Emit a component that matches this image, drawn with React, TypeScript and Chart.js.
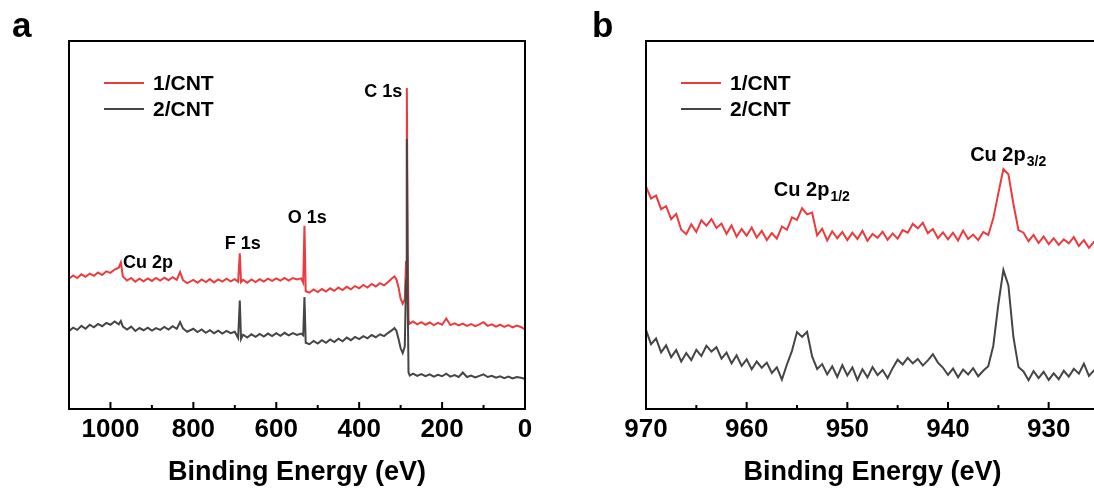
import React, { useEffect, useRef } from 'react';
import { Chart, registerables } from 'chart.js';

Chart.register(...registerables);

// ---------- Panel a: survey spectrum ----------
const surveyEnergy = [
  1100, 1090, 1080, 1070, 1060, 1050, 1040, 1030, 1020, 1010,
  1000, 990, 980, 975, 970, 960, 950, 940, 930, 920,
  910, 900, 890, 880, 870, 860, 850, 840, 832, 825,
  815, 800, 790, 780, 770, 760, 750, 740, 730, 720,
  710, 700, 692, 688, 685, 680, 670, 660, 650, 640,
  630, 620, 610, 600, 590, 580, 570, 560, 550, 540,
  535, 532, 529, 520, 510, 500, 490, 480, 470, 460,
  450, 440, 430, 420, 410, 400, 390, 380, 370, 360,
  350, 340, 330, 320, 315, 310, 305, 300, 295, 290,
  287, 285, 283, 281, 278, 270, 260, 250, 240, 230,
  220, 210, 200, 190, 180, 170, 160, 150, 140, 130,
  120, 110, 100, 90, 80, 70, 60, 50, 40, 30,
  20, 10, 0,
];
const surveyRed = [
  35.4, 36.3, 35.6, 36.6, 35.9, 36.8, 36.2, 37.1, 36.4, 37.4,
  37.0, 37.9, 38.4, 39.8, 36.0, 34.9, 35.6, 34.6, 35.4, 34.7,
  35.5, 34.8, 35.6, 34.9, 35.7, 35.0, 35.8, 35.1, 37.2, 35.0,
  34.2, 35.1, 34.3, 35.2, 34.5, 35.3, 34.4, 35.2, 34.6, 35.4,
  34.7, 35.3, 34.6, 42.3, 34.5, 35.1, 34.3, 35.2, 34.5, 35.3,
  34.6, 35.4, 34.8, 35.5, 34.9, 35.6, 34.9, 35.6, 35.2, 35.5,
  34.3, 49.8, 32.0, 31.6, 32.5, 31.8, 32.6, 31.9, 32.8, 32.1,
  33.0, 32.3, 33.2, 32.5, 33.4, 32.8, 33.7, 33.0, 34.0, 33.3,
  34.2, 33.6, 34.5, 35.6, 36.0, 35.2, 33.0, 30.0, 28.6, 29.8,
  40.0, 87.2, 45.0, 24.0, 23.2, 23.8, 23.0, 23.6, 22.9, 23.5,
  22.8, 23.4, 22.9, 24.6, 22.8, 23.3, 22.7, 23.2, 22.6, 23.1,
  22.5, 23.0, 23.6, 22.6, 23.0, 22.4, 22.9, 22.3, 22.8, 22.2,
  22.7, 22.3, 21.6,
];
const surveyGray = [
  21.2, 22.1, 21.5, 22.6, 21.8, 22.9, 22.2, 23.1, 22.5, 23.4,
  22.9, 23.8, 23.0, 23.9, 22.4, 21.6, 22.4, 21.2, 22.0, 21.4,
  22.1, 21.3, 22.0, 21.5, 22.3, 21.6, 22.5, 21.8, 23.6, 21.9,
  21.0, 21.8, 20.9, 21.6, 20.7, 21.4, 20.6, 21.3, 20.5, 21.2,
  20.6, 21.0, 19.3, 29.5, 19.0, 20.2, 19.4, 20.3, 19.6, 20.4,
  19.7, 20.5, 19.8, 20.6, 19.9, 20.7, 20.0, 20.6, 20.1, 20.5,
  20.0, 30.4, 18.0, 17.6, 18.5, 17.8, 18.7, 18.0, 18.9, 18.2,
  19.1, 18.4, 19.4, 18.7, 19.6, 19.0, 19.8, 19.2, 20.1, 19.5,
  20.3, 19.8, 20.7, 21.5, 22.0, 21.2, 19.0, 16.5, 15.2, 17.0,
  35.0, 73.4, 30.0, 10.0, 9.1, 9.6, 9.0, 9.5, 8.9, 9.4,
  8.8, 9.3, 8.9, 9.6, 8.8, 9.2, 8.7, 9.9, 8.7, 9.1,
  8.6, 9.0, 9.4, 8.7, 9.0, 8.5, 8.9, 8.4, 8.8, 8.3,
  8.7, 8.5, 8.2,
];
const surveyTicks = [1000, 800, 600, 400, 200, 0];

// ---------- Panel b: Cu 2p region ----------
const cuEnergy = [
  970, 969.5, 969, 968.5, 968, 967.5, 967, 966.5, 966, 965.5,
  965, 964.5, 964, 963.5, 963, 962.5, 962, 961.5, 961, 960.5,
  960, 959.5, 959, 958.5, 958, 957.5, 957, 956.5, 956, 955.5,
  955, 954.5, 954, 953.5, 953, 952.5, 952, 951.5, 951, 950.5,
  950, 949.5, 949, 948.5, 948, 947.5, 947, 946.5, 946, 945.5,
  945, 944.5, 944, 943.5, 943, 942.5, 942, 941.5, 941, 940.5,
  940, 939.5, 939, 938.5, 938, 937.5, 937, 936.5, 936, 935.5,
  935, 934.5, 934, 933.5, 933, 932.5, 932, 931.5, 931, 930.5,
  930, 929.5, 929, 928.5, 928, 927.5, 927, 926.5, 926, 925.5,
  925,
];
const cuRed = [
  60.4, 57.2, 58.0, 54.3, 55.1, 51.6, 53.0, 48.7, 47.5, 50.2,
  48.1, 51.3, 49.8, 51.6, 49.2, 50.4, 47.6, 49.9, 46.8, 48.9,
  47.1, 49.3, 46.6, 48.4, 45.9, 47.8, 46.3, 49.6, 48.7, 52.1,
  51.4, 54.6, 52.9, 53.4, 47.2, 49.0, 45.8, 48.3, 46.4, 48.1,
  45.9, 47.9, 46.2, 48.4, 45.7, 47.6, 46.5, 48.2, 46.0, 47.7,
  46.3, 48.6, 47.9, 50.3, 49.1, 50.6, 47.8, 48.9, 46.4, 48.0,
  46.1, 47.9, 45.8, 48.5, 46.2, 47.4, 45.9, 48.1, 47.3, 51.8,
  58.6, 65.2, 63.8, 55.7, 48.6, 47.9, 45.6, 47.3, 45.1, 46.9,
  44.8, 46.4, 44.6, 46.1, 45.0, 46.7, 44.3, 45.9, 43.8, 45.4,
  44.1,
];
const cuGray = [
  21.5, 17.6, 19.2, 15.4, 17.3, 14.1, 16.0, 12.9, 15.2, 13.3,
  16.1, 14.4, 17.2, 15.6, 16.8, 13.7, 15.3, 12.4, 14.6, 11.7,
  13.5, 10.8, 12.9, 11.2, 12.6, 9.8, 11.3, 8.0, 12.1, 15.8,
  20.9, 19.6, 21.0, 14.3, 10.9, 12.2, 9.4, 11.6, 8.7, 11.9,
  9.1, 11.3, 7.9, 10.8, 8.6, 11.4, 9.2, 10.6, 8.4, 11.1,
  13.4, 12.1, 13.9, 12.4, 13.6, 11.8, 13.2, 14.9, 12.6, 11.2,
  9.3, 11.0, 8.6, 10.7, 9.4, 11.1, 8.9, 10.4, 11.6, 17.2,
  28.4, 37.8, 33.6, 19.5, 11.4, 10.2, 7.8, 10.3, 8.4, 10.1,
  7.9, 9.7, 8.1, 10.4, 8.8, 10.9, 9.6, 12.3, 9.0, 10.5,
  7.9,
];
const cuTicks = [970, 960, 950, 940, 930];

const seriesNames = ['1/CNT', '2/CNT'];
const axisTitle = 'Binding Energy (eV)';

const RED = '#EC3B3E';
const GRAY = '#454545';
const FONT = '"Liberation Sans", Arial, Helvetica, sans-serif';

const decorPlugin = {
  id: 'decor',
  afterDraw(chart: any, _args: any, opts: any) {
    const { ctx, chartArea: ca } = chart;
    const xs = chart.scales.x;
    const ys = chart.scales.y;
    ctx.save();

    // frame
    ctx.strokeStyle = '#000';
    ctx.lineWidth = 2;
    ctx.strokeRect(ca.left, ca.top, ca.right - ca.left, ca.bottom - ca.top);

    // inward ticks on the bottom axis
    const majors: number[] = opts.majors;
    const half: number = opts.minorHalf;
    const lo = Math.min(xs.min, xs.max);
    const hi = Math.max(xs.min, xs.max);
    const minors: number[] = [];
    majors.forEach((v) => {
      [v - half, v + half].forEach((m) => {
        if (m > lo && m < hi && !minors.includes(m)) minors.push(m);
      });
    });
    ctx.beginPath();
    majors.forEach((v) => {
      const px = xs.getPixelForValue(v);
      ctx.moveTo(px, ca.bottom);
      ctx.lineTo(px, ca.bottom - 7);
    });
    minors.forEach((v) => {
      const px = xs.getPixelForValue(v);
      ctx.moveTo(px, ca.bottom);
      ctx.lineTo(px, ca.bottom - 4);
    });
    ctx.stroke();

    // legend
    const lx = ca.left + 35;
    chart.data.datasets.forEach((ds: any, i: number) => {
      const ly = ca.top + 42 + i * 26;
      ctx.strokeStyle = ds.borderColor;
      ctx.lineWidth = 2;
      ctx.beginPath();
      ctx.moveTo(lx, ly);
      ctx.lineTo(lx + 40, ly);
      ctx.stroke();
      ctx.fillStyle = '#000';
      ctx.font = `bold 21px ${FONT}`;
      ctx.textAlign = 'left';
      ctx.textBaseline = 'middle';
      ctx.fillText(ds.label, lx + 49, ly + 1);
    });

    // peak labels
    (opts.labels || []).forEach((l: any) => {
      const px = xs.getPixelForValue(l.x);
      const py = ys.getPixelForValue(l.y);
      ctx.fillStyle = '#000';
      ctx.font = `bold ${l.size}px ${FONT}`;
      ctx.textBaseline = 'middle';
      ctx.textAlign = l.align || 'left';
      ctx.fillText(l.text, px, py);
      if (l.sub) {
        const w = ctx.measureText(l.text).width;
        ctx.font = `bold ${l.subSize}px ${FONT}`;
        ctx.textAlign = 'left';
        ctx.fillText(l.sub, px + w + 1, py + 7);
      }
    });

    // panel letter
    ctx.fillStyle = '#000';
    ctx.font = `bold 35px ${FONT}`;
    ctx.textAlign = 'left';
    ctx.textBaseline = 'alphabetic';
    ctx.fillText(opts.letter, opts.letterX, 37);

    ctx.restore();
  },
};

function makeConfig(
  energy: number[],
  red: number[],
  gray: number[],
  ticks: number[],
  min: number,
  max: number,
  padLeft: number,
  padRight: number,
  decor: any
) {
  return {
    type: 'line',
    data: {
      datasets: [
        {
          label: seriesNames[0],
          data: energy.map((e, i) => ({ x: e, y: red[i] })),
          borderColor: RED,
          backgroundColor: RED,
          borderWidth: 2,
          pointRadius: 0,
          tension: 0,
          order: 1,
        },
        {
          label: seriesNames[1],
          data: energy.map((e, i) => ({ x: e, y: gray[i] })),
          borderColor: GRAY,
          backgroundColor: GRAY,
          borderWidth: 2,
          pointRadius: 0,
          tension: 0,
          order: 0,
        },
      ],
    },
    options: {
      animation: false,
      responsive: false,
      events: [],
      layout: { padding: { left: padLeft, right: padRight, top: 41, bottom: 0 } },
      plugins: {
        legend: { display: false },
        tooltip: { enabled: false },
        decor,
      },
      scales: {
        x: {
          type: 'linear',
          min,
          max,
          reverse: true,
          grid: { display: false, drawTicks: false },
          border: { display: false },
          afterBuildTicks: (s: any) => {
            s.ticks = ticks.map((v) => ({ value: v }));
          },
          afterFit: (s: any) => {
            s.height = 81;
          },
          ticks: {
            autoSkip: false,
            maxRotation: 0,
            minRotation: 0,
            padding: 5,
            color: '#000',
            font: { family: FONT, size: 26, weight: 'bold' },
            callback: (v: any) => String(v),
          },
          title: {
            display: true,
            text: axisTitle,
            color: '#000',
            font: { family: FONT, size: 27, weight: 'bold' },
            padding: { top: 0, bottom: 1 },
          },
        },
        y: { display: false, min: 0, max: 100 },
      },
    },
    plugins: [decorPlugin],
  } as any;
}

export default function App() {
  const refA = useRef<HTMLCanvasElement>(null);
  const refB = useRef<HTMLCanvasElement>(null);

  useEffect(() => {
    const chartA = new Chart(
      refA.current as HTMLCanvasElement,
      makeConfig(surveyEnergy, surveyRed, surveyGray, surveyTicks, 0, 1100, 69, 35, {
        majors: surveyTicks,
        minorHalf: 100,
        letter: 'a',
        letterX: 12,
        labels: [
          { x: 970, y: 39.7, text: 'Cu 2p', size: 18, align: 'left' },
          { x: 681, y: 44.8, text: 'F 1s', size: 18, align: 'center' },
          { x: 525, y: 52.0, text: 'O 1s', size: 18, align: 'center' },
          { x: 296, y: 86.0, text: 'C 1s', size: 18, align: 'right' },
        ],
      })
    );
    const chartB = new Chart(
      refB.current as HTMLCanvasElement,
      makeConfig(cuEnergy, cuRed, cuGray, cuTicks, 925, 970, 86, 21, {
        majors: cuTicks,
        minorHalf: 5,
        letter: 'b',
        letterX: 32,
        labels: [
          { x: 957.3, y: 59.5, text: 'Cu 2p', sub: '1/2', size: 20, subSize: 14, align: 'left' },
          { x: 937.8, y: 69.0, text: 'Cu 2p', sub: '3/2', size: 20, subSize: 14, align: 'left' },
        ],
      })
    );
    return () => {
      chartA.destroy();
      chartB.destroy();
    };
  }, []);

  return (
    <div
      style={{
        position: 'fixed',
        left: 0,
        top: 0,
        width: 1094,
        height: 490,
        overflow: 'hidden',
        background: '#fff',
      }}
    >
      <canvas ref={refA} width={560} height={490} style={{ position: 'absolute', left: 0, top: 0 }} />
      <canvas ref={refB} width={560} height={490} style={{ position: 'absolute', left: 560, top: 0 }} />
    </div>
  );
}
